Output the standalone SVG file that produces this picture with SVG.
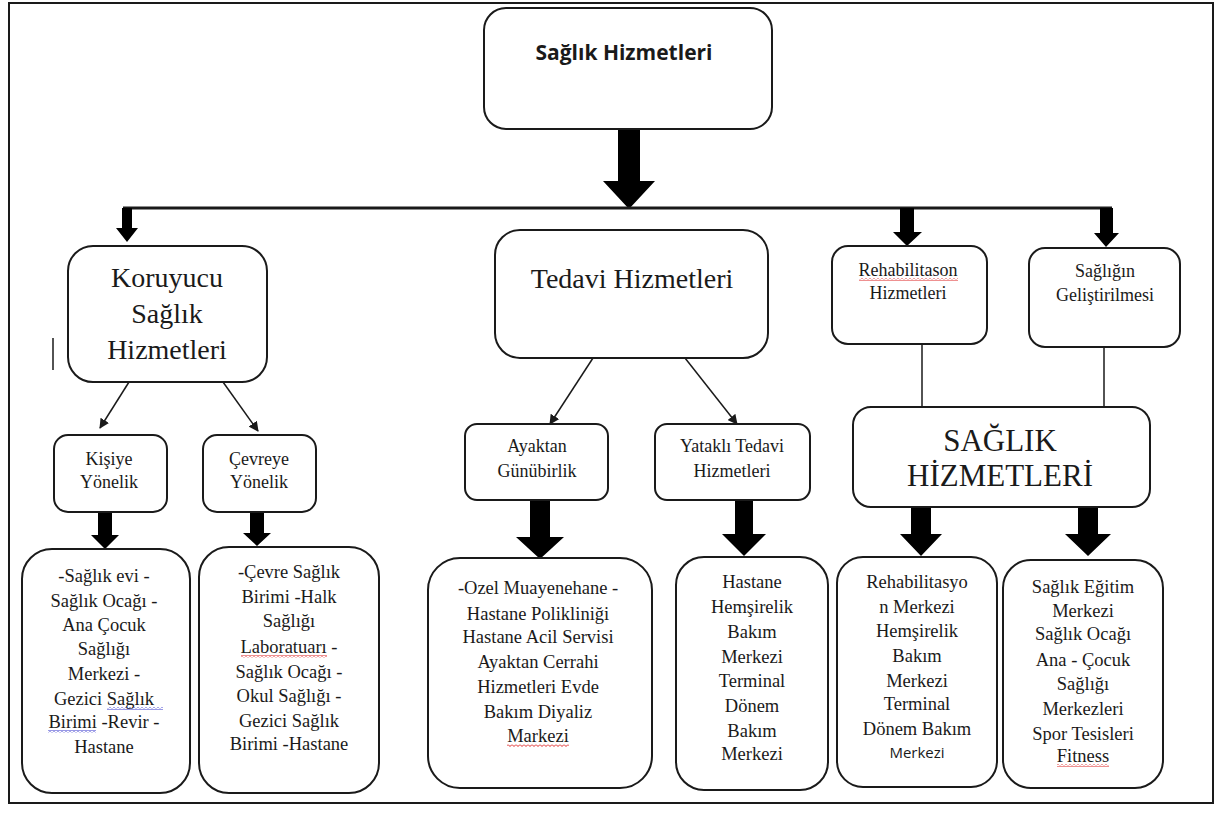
<svg xmlns="http://www.w3.org/2000/svg" width="1227" height="814" viewBox="0 0 1227 814">
<style>
.bx{fill:#fff;stroke:#1a1a1a;stroke-width:2}
.t{font-family:"Liberation Serif","Times New Roman",serif;fill:#1a1a1a;text-anchor:middle}
.big{font-size:28px}
.mid{font-size:18px}
.sm{font-size:18.5px}
.ta{fill:#000;stroke:none}
.thin{stroke:#1a1a1a;stroke-width:1.5;fill:none}
</style>
<defs>
<marker id="ah" viewBox="0 0 10 10" refX="9" refY="5" markerWidth="10" markerHeight="10" markerUnits="userSpaceOnUse" orient="auto">
<path d="M0,0 L10,5 L0,10 z" fill="#1a1a1a"/>
</marker>
<pattern id="wavR" width="4" height="3" patternUnits="userSpaceOnUse">
<path d="M0,0.5 L2,2.5 L4,0.5" fill="none" stroke="#d22" stroke-width="1"/>
</pattern>
<pattern id="wavB" width="4" height="3" patternUnits="userSpaceOnUse">
<path d="M0,0.5 L2,2.5 L4,0.5" fill="none" stroke="#33c" stroke-width="1"/>
</pattern>
</defs>
<rect x="0" y="0" width="1227" height="814" fill="#fff"/>
<rect id="frame" x="9" y="3" width="1204" height="800" fill="none" stroke="#1a1a1a" stroke-width="2"/>
<line x1="53" y1="338" x2="53" y2="370" stroke="#1a1a1a" stroke-width="1.5"/>

<g id="connectors">
<path class="ta" d="M618,129 H640 V181 H655 L629,209 L603,181 H618 Z"/>
<line x1="123" y1="208" x2="1112" y2="208" stroke="#1a1a1a" stroke-width="3"/>
<path class="ta" d="M122,208 H132 V228 H138 L127,242 L116,228 H122 Z"/>
<path class="ta" d="M900,208 H914 V232 H922 L907,246 L893,232 H900 Z"/>
<path class="ta" d="M1100,208 H1113 V233 H1119 L1106,247 L1094,233 H1100 Z"/>
<line class="thin" x1="129" y1="382" x2="100" y2="428" marker-end="url(#ah)"/>
<line class="thin" x1="223" y1="382" x2="258" y2="431" marker-end="url(#ah)"/>
<line class="thin" x1="593" y1="358" x2="550" y2="424" marker-end="url(#ah)"/>
<line class="thin" x1="685" y1="358" x2="737" y2="424" marker-end="url(#ah)"/>
<line class="thin" x1="922" y1="344" x2="922" y2="407"/>
<line class="thin" x1="1104" y1="347" x2="1104" y2="407"/>
<path class="ta" d="M98,512 H112 V535 H119 L105,549 L91,535 H98 Z"/>
<path class="ta" d="M250,508 H264 V533 H271 L257,546 L243,533 H250 Z"/>
<path class="ta" d="M530,500 H550 V537 H564 L540,559 L516,537 H530 Z"/>
<path class="ta" d="M735,500 H753 V534 H766 L744,556 L722,534 H735 Z"/>
<path class="ta" d="M911,507 H931 V534 H942 L921,556 L900,534 H911 Z"/>
<path class="ta" d="M1078,507 H1098 V534 H1111 L1088,556 L1065,534 H1078 Z"/>
</g>

<g id="n-top">
<rect class="bx" x="484" y="8" width="288" height="121" rx="22"/>
<text x="624" y="60" font-family="'Open Sans','Noto Sans',sans-serif" font-weight="bold" font-size="21" fill="#1a1a1a" text-anchor="middle" textLength="177" lengthAdjust="spacingAndGlyphs">Sağlık Hizmetleri</text>
</g>

<g id="n-koruyucu">
<rect class="bx" x="68" y="246" width="199" height="136" rx="25"/>
<text class="t big" x="167" y="287">Koruyucu</text>
<text class="t big" x="167" y="323">Sağlık</text>
<text class="t big" x="167" y="359">Hizmetleri</text>
</g>

<g id="n-kisiye">
<rect class="bx" x="54" y="435" width="113" height="77" rx="14"/>
<text class="t mid" x="109" y="465">Kişiye</text>
<text class="t mid" x="109" y="488">Yönelik</text>
</g>

<g id="n-cevreye">
<rect class="bx" x="203" y="435" width="113" height="77" rx="14"/>
<text class="t mid" x="259" y="465">Çevreye</text>
<text class="t mid" x="259" y="488">Yönelik</text>
</g>

<g id="n-list1">
<rect class="bx" x="22" y="549" width="168" height="244" rx="30"/>
<text class="t sm" x="104" y="582">-Sağlık evi -</text>
<text class="t sm" x="104" y="607">Sağlık Ocağı -</text>
<text class="t sm" x="104" y="631">Ana Çocuk</text>
<text class="t sm" x="104" y="655">Sağlığı</text>
<text class="t sm" x="104" y="680">Merkezi -</text>
<text class="t sm" x="104" y="705">Gezici Sağlık</text>
<text class="t sm" x="104" y="728">Birimi -Revir -</text>
<text class="t sm" x="104" y="753">Hastane</text>
<rect x="107" y="707" width="56" height="3" fill="url(#wavB)"/>
<rect x="48" y="730" width="48" height="3" fill="url(#wavB)"/>
</g>

<g id="n-list2">
<rect class="bx" x="199" y="547" width="180" height="246" rx="30"/>
<text class="t sm" x="289" y="578">-Çevre Sağlık</text>
<text class="t sm" x="289" y="603">Birimi -Halk</text>
<text class="t sm" x="289" y="627">Sağlığı</text>
<text class="t sm" x="289" y="653">Laboratuarı -</text>
<text class="t sm" x="289" y="678">Sağlık Ocağı -</text>
<text class="t sm" x="289" y="702">Okul Sağlığı -</text>
<text class="t sm" x="289" y="727">Gezici Sağlık</text>
<text class="t sm" x="289" y="750">Birimi -Hastane</text>
<rect x="241" y="655" width="86" height="3" fill="url(#wavR)"/>
</g>

<g id="n-tedavi">
<rect class="bx" x="495" y="230" width="273" height="128" rx="25"/>
<text class="t big" x="632" y="288">Tedavi Hizmetleri</text>
</g>

<g id="n-ayaktan">
<rect class="bx" x="465" y="424" width="143" height="76" rx="12"/>
<text class="t mid" x="537" y="452">Ayaktan</text>
<text class="t mid" x="537" y="477">Günübirlik</text>
</g>

<g id="n-yatakli">
<rect class="bx" x="655" y="424" width="155" height="76" rx="12"/>
<text class="t mid" x="732" y="452">Yataklı Tedavi</text>
<text class="t mid" x="732" y="477">Hizmetleri</text>
</g>

<g id="n-list3">
<rect class="bx" x="428" y="558" width="224" height="230" rx="32"/>
<text class="t sm" x="538" y="594">-Ozel Muayenehane -</text>
<text class="t sm" x="538" y="620">Hastane Polikliniği</text>
<text class="t sm" x="538" y="643">Hastane Acil Servisi</text>
<text class="t sm" x="538" y="668">Ayaktan Cerrahi</text>
<text class="t sm" x="538" y="693">Hizmetleri Evde</text>
<text class="t sm" x="538" y="718">Bakım Diyaliz</text>
<text class="t sm" x="538" y="742">Markezi</text>
<rect x="507" y="744" width="62" height="3" fill="url(#wavR)"/>
</g>

<g id="n-list4">
<rect class="bx" x="676" y="557" width="152" height="233" rx="28"/>
<text class="t sm" x="752" y="588">Hastane</text>
<text class="t sm" x="752" y="613">Hemşirelik</text>
<text class="t sm" x="752" y="638">Bakım</text>
<text class="t sm" x="752" y="663">Merkezi</text>
<text class="t sm" x="752" y="687">Terminal</text>
<text class="t sm" x="752" y="712">Dönem</text>
<text class="t sm" x="752" y="737">Bakım</text>
<text class="t sm" x="752" y="760">Merkezi</text>
</g>

<g id="n-rehab">
<rect class="bx" x="832" y="246" width="155" height="98" rx="16"/>
<text class="t mid" x="908" y="276">Rehabilitason</text>
<text class="t mid" x="908" y="299">Hizmetleri</text>
<rect x="859" y="278" width="99" height="3" fill="url(#wavR)"/>
</g>

<g id="n-gelistirme">
<rect class="bx" x="1029" y="248" width="151" height="99" rx="16"/>
<text class="t mid" x="1105" y="277">Sağlığın</text>
<text class="t mid" x="1105" y="301">Geliştirilmesi</text>
</g>

<g id="n-saglik-hiz">
<rect class="bx" x="853" y="407" width="297" height="100" rx="18"/>
<text class="t" font-size="31" x="1000" y="451">SAĞLIK</text>
<text class="t" font-size="31" x="1000" y="486">HİZMETLERİ</text>
</g>

<g id="n-list5">
<rect class="bx" x="837" y="557" width="160" height="230" rx="26"/>
<text class="t sm" x="917" y="588">Rehabilitasyo</text>
<text class="t sm" x="917" y="613">n Merkezi</text>
<text class="t sm" x="917" y="637">Hemşirelik</text>
<text class="t sm" x="917" y="662">Bakım</text>
<text class="t sm" x="917" y="687">Merkezi</text>
<text class="t sm" x="917" y="710">Terminal</text>
<text class="t sm" x="917" y="735">Dönem Bakım</text>
<text x="917" y="758" font-family="'Open Sans','Noto Sans',sans-serif" font-size="15" fill="#1a1a1a" text-anchor="middle">Merkezi</text>
</g>

<g id="n-list6">
<rect class="bx" x="1003" y="560" width="160" height="228" rx="28"/>
<text class="t sm" x="1083" y="593">Sağlık Eğitim</text>
<text class="t sm" x="1083" y="617">Merkezi</text>
<text class="t sm" x="1083" y="640">Sağlık Ocağı</text>
<text class="t sm" x="1083" y="666">Ana - Çocuk</text>
<text class="t sm" x="1083" y="690">Sağlığı</text>
<text class="t sm" x="1083" y="715">Merkezleri</text>
<text class="t sm" x="1083" y="740">Spor Tesisleri</text>
<text class="t sm" x="1083" y="762">Fitness</text>
<rect x="1057" y="764" width="52" height="3" fill="url(#wavR)"/>
</g>
</svg>
